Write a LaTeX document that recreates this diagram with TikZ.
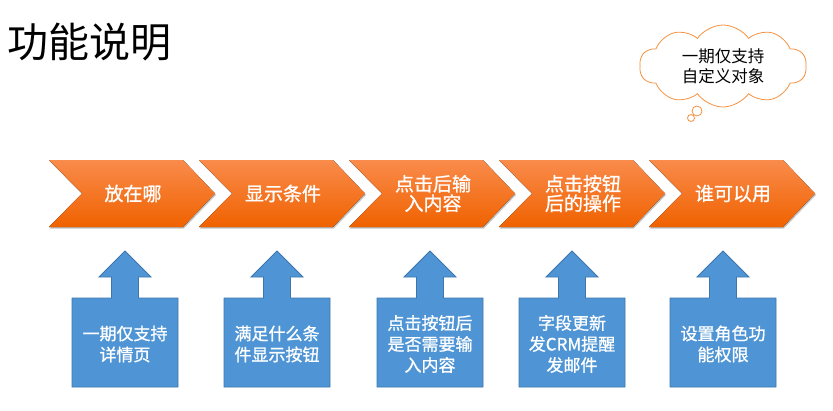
\documentclass[tikz,border=0pt]{standalone}
\usepackage{fontspec}
\setmainfont{Noto Sans CJK SC}
\newfontfamily\semibold[FakeBold=1]{Noto Sans CJK SC}
\usetikzlibrary{shapes.symbols,shadows}
\definecolor{orTop}{HTML}{F98B4B}
\definecolor{orMid}{HTML}{FF6F00}
\definecolor{orBot}{HTML}{F06200}
\definecolor{bxFill}{HTML}{4F95D5}
\definecolor{bxLine}{HTML}{3E76AC}
\definecolor{cloudLine}{HTML}{F5913E}
\tikzset{
  chev/.style={top color=orTop, middle color=orMid, bottom color=orBot,
    drop shadow={shadow xshift=1pt, shadow yshift=-1.5pt, fill=black!50, opacity=.45}},
  chevtext/.style={text=white, align=center, font=\semibold\fontsize{19}{19.5}\selectfont, inner sep=0pt},
  bluebox/.style={fill=bxFill, draw=bxLine, line width=0.8pt},
  boxtext/.style={text=white, align=center, font=\semibold\fontsize{17}{21}\selectfont, inner sep=0pt},
  cloudshape/.style={cloud, draw=cloudLine, line width=0.8pt, cloud puffs=10, cloud puff arc=110, aspect=2,
    minimum width=167pt, minimum height=82pt, align=center, font=\fontsize{16.5}{20}\selectfont, inner sep=0pt},
  bubble/.style={draw=cloudLine, line width=0.8pt},
  title/.style={anchor=west, font=\fontsize{41}{44}\selectfont, inner sep=0pt}
}
\newcommand\mychev[3]{%
  \fill[chev] (#1,160) -- ({#1+134},160) -- ({#1+166},193.5) -- ({#1+134},227) -- (#1,227) -- ({#1+33},193.5) -- cycle;
  \node[chevtext] (#2) at ({#1+84},193.5) {#3};
}
\newcommand\mybox[3]{%
  \draw[bluebox] ({#1-53},298) -- ({#1-13.5},298) -- ({#1-13.5},277) -- ({#1-26},277) -- (#1,251) -- ({#1+26},277) -- ({#1+13.5},277) -- ({#1+13.5},298) -- ({#1+53},298) -- ({#1+53},387) -- ({#1-53},387) -- cycle;
  \node[boxtext] (#2) at (#1,344) {#3};
}
\begin{document}
\begin{tikzpicture}[x=1pt,y=-1pt]
\useasboundingbox (0,0) rectangle (833,410);
\node[title] (title) at (7,42) {功能说明};
\mychev{49}{c1}{放在哪}
\mychev{199}{c2}{显示条件}
\mychev{349}{c3}{点击后输\\入内容}
\mychev{499}{c4}{点击按钮\\后的操作}
\mychev{649}{c5}{谁可以用}
\mybox{125}{b1}{一期仅支持\\详情页}
\mybox{277}{b2}{满足什么条\\件显示按钮}
\mybox{430}{b3}{点击按钮后\\是否需要输\\入内容}
\mybox{572}{b4}{字段更新\\发CRM提醒\\发邮件}
\mybox{723}{b5}{设置角色功\\能权限}
\node[cloudshape] (cloud) at (723,66) {一期仅支持\\自定义对象};
\draw[bubble] (697,111) circle[radius=5];
\draw[bubble] (691,118) circle[radius=3.5];
\end{tikzpicture}
\end{document}
